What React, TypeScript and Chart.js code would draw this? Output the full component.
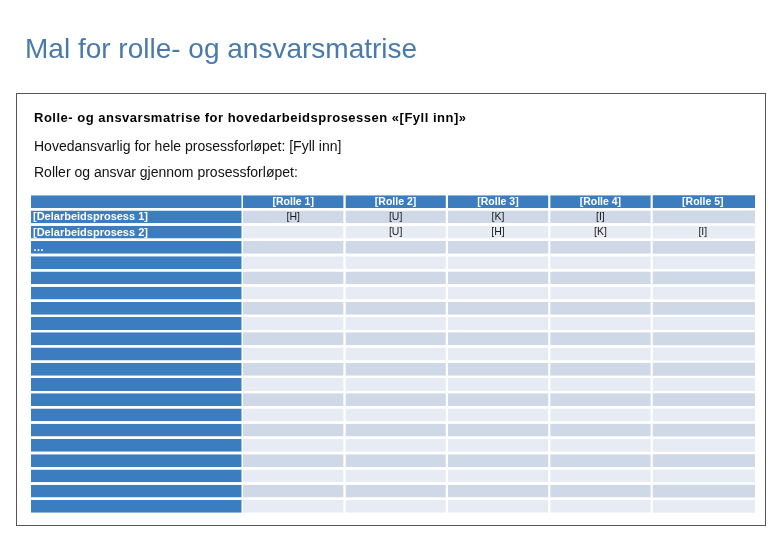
import React, { useEffect, useRef } from "react";
import { Chart, registerables } from "chart.js";

Chart.register(...registerables);

const pageTitle = "Mal for rolle- og ansvarsmatrise";
const boxHeading = "Rolle- og ansvarsmatrise for hovedarbeidsprosessen «[Fyll inn]»";
const ownerLine = "Hovedansvarlig for hele prosessforløpet: [Fyll inn]";
const rolesLine = "Roller og ansvar gjennom prosessforløpet:";

const roles = ["[Rolle 1]", "[Rolle 2]", "[Rolle 3]", "[Rolle 4]", "[Rolle 5]"];
const processes = [
  "[Delarbeidsprosess 1]",
  "[Delarbeidsprosess 2]",
  "…",
  "", "", "", "", "", "", "", "", "", "", "", "", "", "", "", "", "",
];
// Responsibility per role, by process row
const rolle1 = ["[H]", ""];
const rolle2 = ["[U]", "[U]"];
const rolle3 = ["[K]", "[H]"];
const rolle4 = ["[I]", "[K]"];
const rolle5 = ["", "[I]"];
const assignments = [rolle1, rolle2, rolle3, rolle4, rolle5];

// column spans (in role-column units)
const processSpan = 2.07;
const roleSpan = 1;

const BLUE = "#3b7dbf";
const ROW_DARK = "#cfd8e7";
const ROW_LIGHT = "#e7ebf3";
const FONT = "'Liberation Sans', Arial, sans-serif";

const rowLabels = ["header", ...processes.map((_, i) => "row" + (i + 1))];

const cellTextPlugin = {
  id: "cellText",
  afterDatasetsDraw(chart: any) {
    const ctx = chart.ctx;
    ctx.save();
    ctx.textBaseline = "middle";
    chart.data.datasets.forEach((ds: any, di: number) => {
      const meta = chart.getDatasetMeta(di);
      meta.data.forEach((bar: any, ri: number) => {
        const { x, base, y } = bar.getProps(["x", "base", "y"], true);
        let text = "";
        if (di === 0) {
          if (ri === 0) return;
          text = processes[ri - 1] || "";
          ctx.font = `bold 11px ${FONT}`;
          ctx.fillStyle = "#ffffff";
          ctx.textAlign = "left";
          ctx.fillText(text, Math.min(x, base) + 2, y + 0.5);
          return;
        }
        if (ri === 0) {
          text = roles[di - 1];
          ctx.font = `bold 10.5px ${FONT}`;
          ctx.fillStyle = "#ffffff";
        } else {
          text = (assignments[di - 1][ri - 1]) || "";
          ctx.font = `10.5px ${FONT}`;
          ctx.fillStyle = "#1a1a1a";
        }
        if (!text) return;
        ctx.textAlign = "center";
        ctx.fillText(text, (x + base) / 2 - 1, y + 0.5);
      });
    });
    ctx.restore();
  },
};

function ChartCanvas() {
  const ref = useRef<HTMLCanvasElement | null>(null);
  useEffect(() => {
    if (!ref.current) return;
    const datasets: any[] = [
      {
        label: "Delarbeidsprosess",
        data: rowLabels.map(() => processSpan),
        backgroundColor: BLUE,
        borderColor: "#ffffff",
        borderWidth: { top: 0, bottom: 0, left: 0, right: 1.5 },
        borderSkipped: false,
      },
      ...roles.map((r, i) => ({
        label: r,
        data: rowLabels.map(() => roleSpan),
        backgroundColor: rowLabels.map((_, ri) =>
          ri === 0 ? BLUE : ri % 2 === 1 ? ROW_DARK : ROW_LIGHT
        ),
        borderColor: "#ffffff",
        borderWidth: { top: 0, bottom: 0, left: 0, right: i === roles.length - 1 ? 0 : 2 },
        borderSkipped: false,
      })),
    ];
    const chart = new Chart(ref.current, {
      type: "bar",
      data: { labels: rowLabels, datasets },
      options: {
        indexAxis: "y",
        responsive: false,
        animation: false,
        events: [],
        layout: { padding: { left: 31, right: 25, top: 194, bottom: 26 } },
        datasets: { bar: { barPercentage: 1, categoryPercentage: 0.84 } },
        scales: {
          x: {
            display: false,
            stacked: true,
            min: 0,
            max: processSpan + roleSpan * roles.length,
          },
          y: { display: false, stacked: true },
        },
        plugins: { legend: { display: false }, tooltip: { enabled: false } },
      } as any,
      plugins: [cellTextPlugin],
    });
    return () => chart.destroy();
  }, []);
  return (
    <canvas
      ref={ref}
      width={780}
      height={540}
      style={{ position: "absolute", left: 0, top: 0, width: 780, height: 540 }}
    />
  );
}

export default function App() {
  const textBase: React.CSSProperties = {
    position: "absolute",
    fontFamily: FONT,
    lineHeight: 1,
    whiteSpace: "nowrap",
    margin: 0,
  };
  return (
    <div
      style={{
        position: "absolute",
        left: 0,
        top: 0,
        width: 780,
        height: 540,
        background: "#ffffff",
        overflow: "hidden",
      }}
    >
      <div
        style={{
          position: "absolute",
          left: 16,
          top: 93,
          width: 748,
          height: 431,
          border: "1px solid #555555",
        }}
      />
      <ChartCanvas />
      <div style={{ ...textBase, left: 25, top: 35, fontSize: 28, color: "#4a7aab" }}>
        {pageTitle}
      </div>
      <div
        style={{
          ...textBase,
          left: 34,
          top: 110.5,
          fontSize: 13,
          fontWeight: "bold",
          letterSpacing: 0.5,
          color: "#000",
        }}
      >
        {boxHeading}
      </div>
      <div style={{ ...textBase, left: 34, top: 139, fontSize: 14, color: "#111" }}>
        {ownerLine}
      </div>
      <div style={{ ...textBase, left: 34, top: 165, fontSize: 14, color: "#111" }}>
        {rolesLine}
      </div>
    </div>
  );
}
